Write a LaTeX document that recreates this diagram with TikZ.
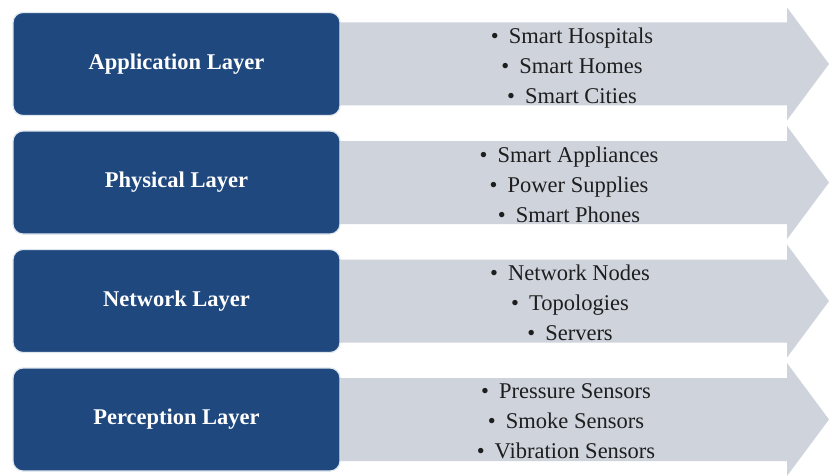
\documentclass[tikz,border=0pt]{standalone}
\usepackage{fontspec}
\setmainfont{Liberation Serif}
\usepackage{tikz}

\definecolor{layerblue}{RGB}{31,72,126}
\definecolor{arrowgray}{RGB}{206,211,220}
\definecolor{glow}{RGB}{222,230,238}
\definecolor{itemtext}{RGB}{30,30,30}

\newcommand{\itembullet}{\textbullet\hspace{0.45em}}

\begin{document}
\begin{tikzpicture}[
        x=1pt, y=-1pt,
        layer/.style={
            fill=layerblue,
            draw=glow,
            line width=1.2pt,
            rounded corners=10pt,
            minimum width=327pt,
            minimum height=103pt,
            text=white,
            font=\bfseries\fontsize{22.5}{26}\selectfont,
            align=center
        },
        items/.style={
            text=itemtext,
            font=\fontsize{22.5}{30}\selectfont,
            align=center
        },
        band/.style={
            fill=arrowgray
        }
    ]
        \useasboundingbox (0,0) rectangle (829,476);

        % Arrows
        \fill[band] (330,22.5) -- (787,22.5) -- (787,7.5) -- (829,64) -- (787,120.5) -- (787,105.5) -- (330,105.5) -- cycle;
        \fill[band] (330,141) -- (787,141) -- (787,126) -- (829,182.5) -- (787,239) -- (787,224) -- (330,224) -- cycle;
        \fill[band] (330,259.5) -- (787,259.5) -- (787,244.5) -- (829,301) -- (787,357.5) -- (787,342.5) -- (330,342.5) -- cycle;
        \fill[band] (330,378) -- (787,378) -- (787,363) -- (829,419.5) -- (787,476) -- (787,461) -- (330,461) -- cycle;

        % Layers
        \node[layer] (app) at (176.5,64) {Application Layer};
        \node[layer] (phys) at (176.5,182.5) {Physical Layer};
        \node[layer] (net) at (176.5,301) {Network Layer};
        \node[layer] (perc) at (176.5,419.5) {Perception Layer};

        % Items of each layer
        \node[items] (appitems) at (572,66) {
            \itembullet Smart Hospitals\\
            \itembullet Smart Homes\\
            \itembullet Smart Cities
        };
        \node[items] (physitems) at (569,184.5) {
            \itembullet Smart Appliances\\
            \itembullet Power Supplies\\
            \itembullet Smart Phones
        };
        \node[items] (netitems) at (570,303) {
            \itembullet Network Nodes\\
            \itembullet Topologies\\
            \itembullet Servers
        };
        \node[items] (percitems) at (566,421.5) {
            \itembullet Pressure Sensors\\
            \itembullet Smoke Sensors\\
            \itembullet Vibration Sensors
        };

    \end{tikzpicture}
\end{document}
